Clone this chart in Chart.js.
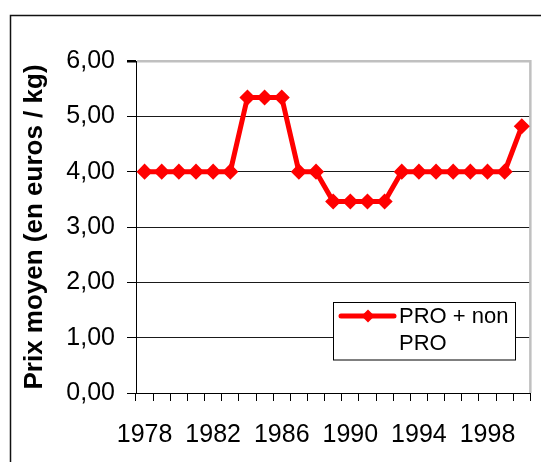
<!DOCTYPE html>
<html>
<head>
<meta charset="utf-8">
<script src="https://cdn.jsdelivr.net/npm/chart.js@4/dist/chart.umd.min.js"></script>
<style>
html,body{margin:0;padding:0;background:#fff;}
canvas{display:block;}
</style>
</head>
<body>
<canvas id="c" width="541" height="462"></canvas>
<script>
const years = ['1978','1979','1980','1981','1982','1983','1984','1985','1986','1987','1988','1989','1990','1991','1992','1993','1994','1995','1996','1997','1998','1999','2000'];
const prices = [4.00,4.00,4.00,4.00,4.00,4.00,5.34,5.34,5.34,4.00,4.00,3.46,3.46,3.46,3.46,4.00,4.00,4.00,4.00,4.00,4.00,4.00,4.82];
const xTickLabels = ['1978','1982','1986','1990','1994','1998'];
const yTicks = [0,1,2,3,4,5,6];
const seriesLabel = 'PRO + non PRO';
const legendLines = ['PRO + non','PRO'];
const yTitle = 'Prix moyen (en euros / kg)';

const FONT = "'Liberation Sans', Arial, sans-serif";

const framePlugin = {
  id: 'frame',
  beforeDraw(chart) {
    const ctx = chart.ctx;
    ctx.save();
    ctx.fillStyle = '#fff';
    ctx.fillRect(0, 0, chart.width, chart.height);
    ctx.restore();
  },
  beforeDatasetsDraw(chart) {
    const ctx = chart.ctx, a = chart.chartArea;
    ctx.save();
    ctx.strokeStyle = '#c0c0c0';
    ctx.lineWidth = 2.5;
    ctx.beginPath();
    ctx.moveTo(a.right, a.top - 1);
    ctx.lineTo(a.right, a.bottom);
    ctx.stroke();
    ctx.restore();
  },
  afterDraw(chart) {
    const ctx = chart.ctx;
    ctx.save();
    ctx.strokeStyle = '#111';
    ctx.lineWidth = 1.5;
    ctx.strokeRect(10.5, 15.5, chart.width + 20, chart.height + 20);
    const ds = chart.data.datasets[0];
    const bx = 333.5, by = 302.5, bw = 182, bh = 57.5;
    ctx.fillStyle = '#fff';
    ctx.fillRect(bx, by, bw, bh);
    ctx.strokeStyle = '#000';
    ctx.lineWidth = 1;
    ctx.strokeRect(bx, by, bw, bh);
    const ly = 316;
    ctx.strokeStyle = ds.borderColor;
    ctx.lineWidth = 5;
    ctx.lineCap = 'round';
    ctx.beginPath();
    ctx.moveTo(341, ly);
    ctx.lineTo(394, ly);
    ctx.stroke();
    ctx.fillStyle = ds.pointBackgroundColor;
    const cx = 368, r = 6.5;
    ctx.beginPath();
    ctx.moveTo(cx - r, ly);
    ctx.lineTo(cx, ly - r);
    ctx.lineTo(cx + r, ly);
    ctx.lineTo(cx, ly + r);
    ctx.closePath();
    ctx.fill();
    ctx.fillStyle = '#000';
    ctx.font = '22px ' + FONT;
    ctx.textBaseline = 'middle';
    ctx.textAlign = 'left';
    legendLines.forEach((t, i) => ctx.fillText(t, 399, ly + 1 + i * 26.5));
    ctx.restore();
  }
};

new Chart(document.getElementById('c'), {
  type: 'line',
  data: {
    labels: years,
    datasets: [{
      label: seriesLabel,
      data: prices,
      borderColor: '#ff0000',
      backgroundColor: '#ff0000',
      pointBackgroundColor: '#ff0000',
      pointBorderColor: '#ff0000',
      borderWidth: 5,
      pointStyle: 'rectRot',
      pointRadius: 7,
      pointBorderWidth: 1.5,
      tension: 0,
      clip: false
    }]
  },
  options: {
    responsive: false,
    animation: false,
    devicePixelRatio: 1,
    layout: { padding: { left: 0, top: 61, right: 10, bottom: 0 } },
    plugins: { legend: { display: false }, tooltip: { enabled: false } },
    scales: {
      x: {
        type: 'category',
        offset: true,
        afterFit(s) { s.height = 69; },
        border: { display: true, color: '#000', width: 1 },
        grid: { display: true, drawOnChartArea: false, drawTicks: true, tickLength: 8, offset: true, tickColor: '#000', color: '#000' },
        ticks: {
          autoSkip: false, maxRotation: 0, minRotation: 0, padding: 19,
          color: '#000', font: { family: FONT, size: 25 },
          callback(v, i) { const l = years[i]; return xTickLabels.includes(l) ? l : ''; }
        }
      },
      y: {
        min: 0, max: 6,
        afterFit(s) { s.width = 136; },
        afterBuildTicks(s) { s.ticks = yTicks.map(v => ({ value: v })); },
        border: { display: true, color: '#000', width: 1 },
        grid: {
          drawTicks: true, tickLength: 9, tickColor: '#000',
          color: c => (c.tick && c.tick.value === 6) ? '#c0c0c0' : '#1a1a1a',
          lineWidth: c => (c.tick && c.tick.value === 6) ? 2.5 : 1
        },
        ticks: {
          padding: 12, color: '#000', font: { family: FONT, size: 25 },
          callback: v => Number(v).toFixed(2).replace('.', ',')
        },
        title: {
          display: true, text: yTitle, color: '#000',
          font: { family: FONT, size: 26, weight: 'bold' },
          padding: { top: 19, bottom: 0 }
        }
      }
    }
  },
  plugins: [framePlugin]
});
</script>
</body>
</html>
